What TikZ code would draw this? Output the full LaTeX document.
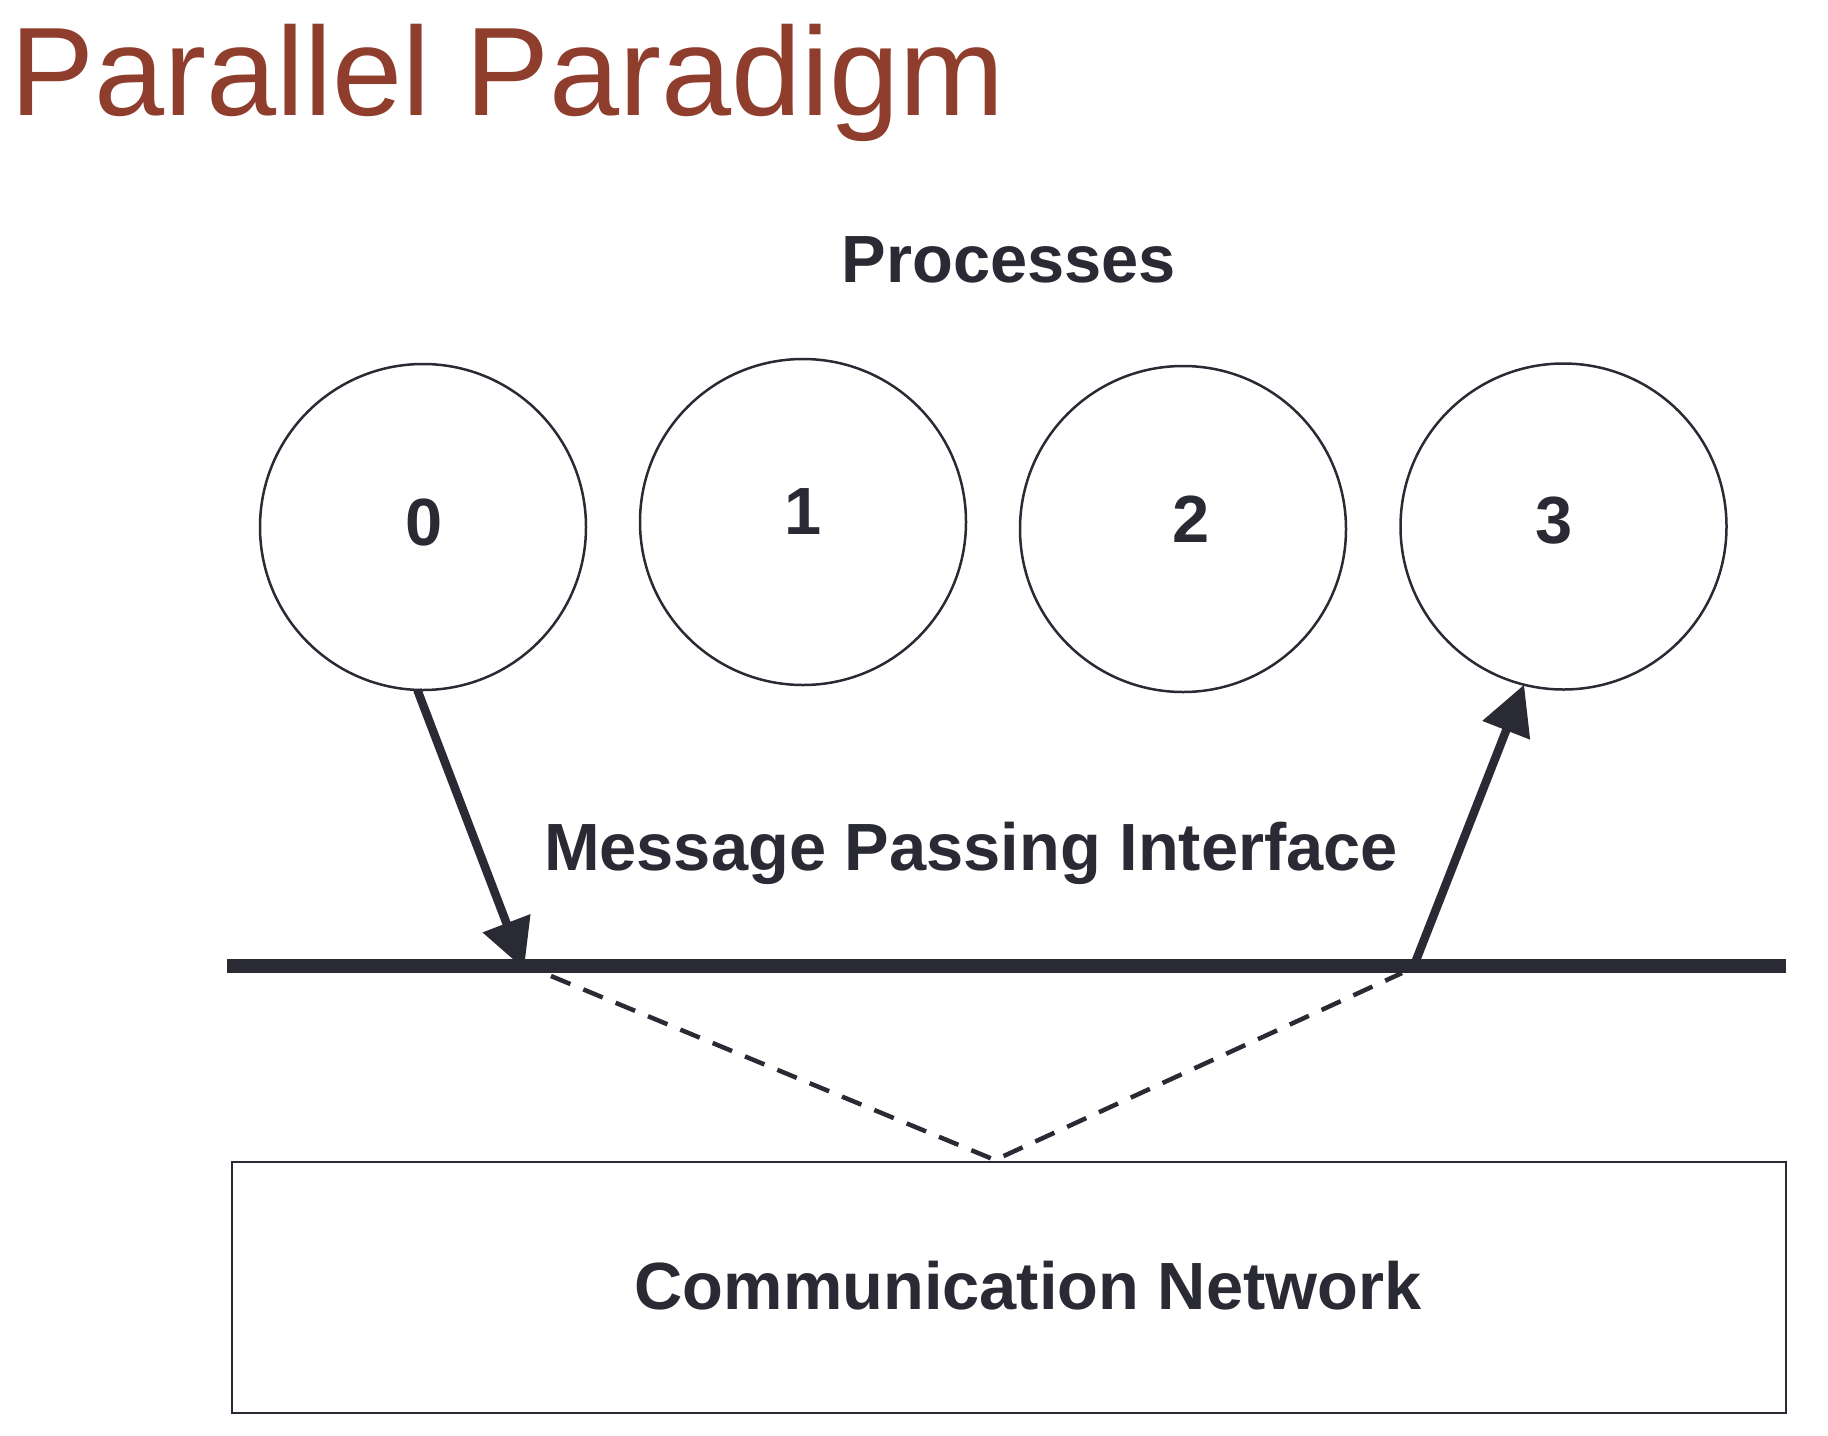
\documentclass[tikz,border=0pt]{standalone}
\usepackage{fontspec}
\setmainfont{Liberation Sans}
\usetikzlibrary{arrows.meta}
\definecolor{ink}{HTML}{2A2A35}
\definecolor{titlecol}{HTML}{8F3E2D}
\begin{document}
\begin{tikzpicture}[x=1pt,y=-1pt,
  proc/.style={circle, draw=ink, line width=2.5pt, minimum size=326pt, inner sep=0pt, outer sep=0pt},
  lbl/.style={text=ink, font=\fontsize{66.8}{80}\selectfont\bfseries, inner sep=0pt, anchor=base},
  msg/.style={draw=ink, line width=8.5pt, -{Triangle[length=49pt,width=49pt]}},
  link/.style={draw=ink, line width=4.5pt, dash pattern=on 21pt off 14pt},
  bus/.style={draw=ink, line width=14pt},
  netbox/.style={draw=ink, line width=2.5pt, minimum width=1554pt, minimum height=251pt, inner sep=0pt, outer sep=0pt}]
\useasboundingbox (0,0) rectangle (1828,1435);

% title
\node[anchor=base west, inner sep=0pt, text=titlecol, font=\fontsize{126}{150}\selectfont] (title) at (10,115) {Parallel Paradigm};

% processes label
\node[lbl] (proclbl) at (1009,282) {Processes};

% process circles
\node[proc] (p0) at (423,527) {};
\node[proc] (p1) at (803,522) {};
\node[proc] (p2) at (1183,529) {};
\node[proc] (p3) at (1563.5,526.5) {};

\node[lbl] (l0) at (424,545) {0};
\node[lbl] (l1) at (803.5,534) {1};
\node[lbl] (l2) at (1191,542) {2};
\node[lbl] (l3) at (1554.5,543) {3};

% bus coordinates
\coordinate (busL) at (227,966);
\coordinate (busR) at (1786,966);
\coordinate (m0) at (524,969);
\coordinate (m3) at (1413,968);

% communication network box
\node[netbox] (net) at (1009,1287.5) {};
\coordinate (d1) at (551,976);
\coordinate (d2) at (995,1160);
\coordinate (d3) at (1402,973);

% arrows
\draw[msg] (p0.-92) -- (m0);
\draw[msg] (m3) -- (p3.-104);

% dashed links
\draw[link] (d1) -- (d2) -- (d3);

% bus
\draw[bus] (busL) -- (busR);

% labels
\node[lbl] (mpi) at (971,870) {Message Passing Interface};
\node[lbl] (netlbl) at (1028,1309) {Communication Network};
\end{tikzpicture}
\end{document}
